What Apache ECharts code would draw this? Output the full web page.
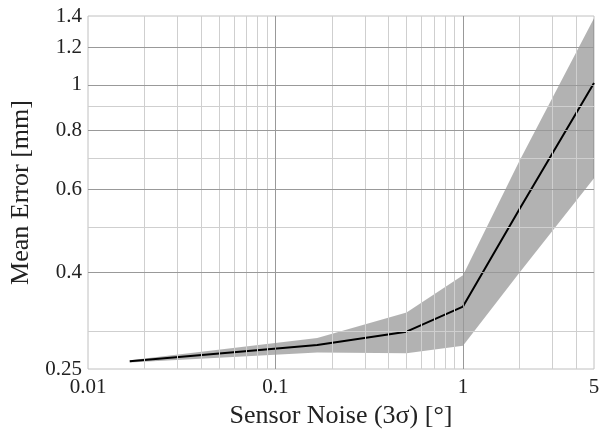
<!DOCTYPE html>
<html><head><meta charset="utf-8">
<script src="https://cdn.jsdelivr.net/npm/echarts@6/dist/echarts.min.js"></script>
<style>html,body{margin:0;padding:0;background:#fff}#c{width:600px;height:434px}</style>
</head><body><div id="c"></div>
<script>
const noise = [0.0167, 0.167, 0.5, 1, 2, 5];
const meanErr = [0.2595, 0.281, 0.300, 0.339, 0.545, 1.01];
const upperErr = [0.261, 0.291, 0.3295, 0.395, 0.69, 1.385];
const lowerErr = [0.258, 0.271, 0.270, 0.280, 0.40, 0.634];

const xTickLabels = [0.01, 0.1, 1, 5];
const yTickLabels = [0.25, 0.4, 0.6, 0.8, 1, 1.2, 1.4];
const xGridMajor = [0.1, 1];
const xGridMinor = [0.02,0.03,0.04,0.05,0.06,0.07,0.08,0.09,0.2,0.3,0.4,0.5,0.6,0.7,0.8,0.9,2,3,4];
const yGridMajor = [0.4, 0.6, 0.8, 1, 1.2];
const yGridMinor = [0.3, 0.5, 0.7, 0.9];

const FONT = 'Liberation Serif';
const chart = echarts.init(document.getElementById('c'), null, {renderer: 'canvas'});

const gridLines = [];
xGridMinor.forEach(v => gridLines.push({xAxis: v, lineStyle: {color: '#cfcfcf', width: 1, type: 'solid'}}));
yGridMinor.forEach(v => gridLines.push({yAxis: v, lineStyle: {color: '#cfcfcf', width: 1, type: 'solid'}}));
xGridMajor.forEach(v => gridLines.push({xAxis: v, lineStyle: {color: '#999999', width: 1, type: 'solid'}}));
yGridMajor.forEach(v => gridLines.push({yAxis: v, lineStyle: {color: '#999999', width: 1, type: 'solid'}}));

const labelBase = {show: true, position: 'start', fontFamily: FONT, fontSize: 21, color: '#222'};
const labelLines = [];
xTickLabels.forEach(v => labelLines.push({xAxis: v, label: Object.assign({formatter: String(v), distance: 8}, labelBase)}));
yTickLabels.forEach(v => labelLines.push({yAxis: v, label: Object.assign({formatter: String(v), distance: 6}, labelBase)}));

const bandData = noise.map((x, i) => [x, lowerErr[i], upperErr[i]]);

chart.setOption({
  animation: false,
  grid: {left: 84, right: 6, top: 16, bottom: 64, show: true, borderColor: '#c0c0c0', borderWidth: 1},
  xAxis: {
    type: 'log', logBase: 10, min: 0.01, max: 5,
    name: 'Sensor Noise (3σ) [°]', nameLocation: 'middle', nameGap: 34,
    nameTextStyle: {fontFamily: FONT, fontSize: 26, color: '#222'},
    axisLine: {show: false}, axisTick: {show: false}, axisLabel: {show: false}, splitLine: {show: false}
  },
  yAxis: {
    type: 'log', logBase: 10, min: 0.25, max: 1.4,
    name: 'Mean Error [mm]', nameLocation: 'middle', nameGap: 54,
    nameTextStyle: {fontFamily: FONT, fontSize: 26, color: '#222'},
    axisLine: {show: false}, axisTick: {show: false}, axisLabel: {show: false}, splitLine: {show: false}
  },
  series: [
    {
      type: 'line', data: [], z: 1, silent: true,
      markLine: {silent: true, symbol: 'none', label: {show: false}, data: gridLines, animation: false}
    },
    {
      type: 'line', data: [], z: 1, silent: true,
      markLine: {silent: true, symbol: 'none', lineStyle: {color: 'rgba(0,0,0,0)', width: 0}, data: labelLines, animation: false}
    },
    {
      type: 'custom', z: 2, silent: true,
      data: bandData,
      encode: {x: 0, y: [1, 2]},
      renderItem: function (params, api) {
        if (params.dataIndex !== 0) return null;
        const pts = [];
        bandData.forEach(d => pts.push(api.coord([d[0], d[2]])));
        for (let i = bandData.length - 1; i >= 0; i--) pts.push(api.coord([bandData[i][0], bandData[i][1]]));
        return {type: 'polygon', shape: {points: pts}, style: {fill: 'rgba(0,0,0,0.3)', stroke: null}};
      }
    },
    {
      type: 'line', z: 3, silent: true, symbol: 'none',
      data: noise.map((x, i) => [x, meanErr[i]]),
      lineStyle: {color: '#000', width: 2}
    }
  ]
});
</script></body></html>
